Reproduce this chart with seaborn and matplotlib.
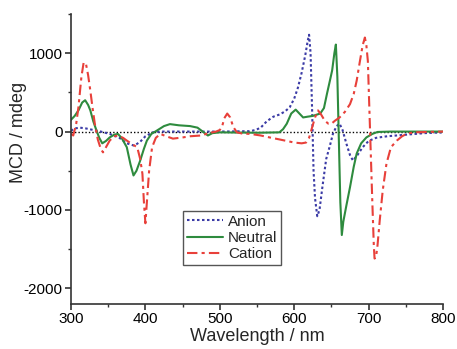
import matplotlib
matplotlib.use("Agg")
import matplotlib.pyplot as plt
import seaborn as sns
import pandas as pd
from matplotlib.ticker import MultipleLocator

sns.set_style("ticks")
plt.rcParams['font.family'] = ['Liberation Sans', 'DejaVu Sans']
plt.rcParams['axes.unicode_minus'] = False

# ---- data ----
anion_x = [300, 305, 312, 320, 330, 340, 352, 365, 375, 385, 393, 400, 410, 420, 450, 500,
           540, 548, 555, 563, 572, 581, 588, 594, 600, 605, 610, 615, 618, 620, 622, 624,
           626, 628, 631, 634, 638, 643, 648, 652, 657, 661, 665, 670, 675, 679, 685, 692,
           700, 710, 725, 750, 775, 800]
anion_y = [10, 40, 50, 40, 20, 0, -30, -80, -150, -180, -130, -60, -10, 0, 0, 0,
           5, 20, 50, 130, 190, 220, 260, 310, 420, 560, 750, 980, 1150, 1235, 1000, 300,
           -500, -850, -1080, -1000, -700, -350, -180, -30, 70, 100, 20, -150, -300, -370, -300, -200,
           -120, -80, -60, -40, -20, -10]

neutral_x = [300, 305, 310, 315, 319, 323, 326, 330, 334, 338, 342, 347, 352, 358, 363, 368,
             375, 380, 384, 388, 393, 398, 402, 408, 415, 425, 433, 445, 460, 470, 477, 484,
             490, 500, 550, 580, 585, 590, 596, 602, 607, 612, 618, 625, 635, 640, 644, 648,
             651, 654, 656, 658, 660, 662, 664, 666, 670, 675, 680, 684, 690, 697, 705, 712,
             730, 800]
neutral_y = [150, 200, 270, 370, 400, 340, 270, 130, 20, -80, -150, -120, -75, -40, -30, -80,
             -200, -420, -560, -500, -370, -220, -115, -30, 10, 70, 95, 80, 70, 50, 0, -50,
             -20, -10, -15, -10, 30, 100, 230, 280, 230, 180, 190, 200, 230, 300, 480, 650,
             780, 1000, 1110, 700, -100, -900, -1320, -1150, -950, -710, -450, -280, -150, -75, -30, -5,
             0, 0]

cation_x = [300, 303, 307, 310, 314, 317, 320, 323, 326, 329, 332, 336, 340, 343, 347, 352,
            358, 363, 370, 375, 382, 389, 393, 396, 398, 400, 402, 405, 409, 414, 420, 428,
            437, 450, 460, 475, 485, 495, 500, 503, 506, 510, 514, 518, 523, 530, 541, 555,
            567, 580, 590, 600, 610, 616, 620, 624, 628, 632, 636, 641, 646, 650, 655, 661,
            668, 675, 680, 684, 688, 692, 695, 697, 699, 701, 703, 705, 707, 708, 710, 712,
            715, 719, 724, 730, 738, 745, 751, 760, 800]
cation_y = [-30, -50, 100, 310, 700, 880, 870, 720, 520, 300, 100, -100, -220, -265, -200, -115,
            -60, -50, -80, -115, -160, -200, -350, -540, -900, -1170, -900, -500, -200, -80, -30, -60,
            -90, -75, -60, -50, -20, 0, 20, 60, 170, 230, 180, 60, -10, -25, -30, -50,
            -75, -100, -120, -140, -150, -140, -80, 50, 180, 270, 220, 140, 100, 100, 140, 180,
            250, 350, 480, 650, 880, 1100, 1200, 1100, 900, 300, -300, -900, -1450, -1620, -1600, -1450,
            -1130, -750, -410, -200, -115, -60, -30, -10, 0]

labels = ["Anion", "Neutral", "Cation"]
colors = ["#3b3ba6", "#2e8b3e", "#e8403a"]

fig = plt.figure(figsize=(4.57, 3.49), dpi=100)
ax = fig.add_axes([71/457, 1 - 304/349, (443 - 71)/457, (304 - 14)/349])

ax.axhline(0, color="black", lw=1.0, ls=(0, (1, 1.5)), zorder=1)

sns.lineplot(x=anion_x, y=anion_y, ax=ax, sort=False, estimator=None,
             color=colors[0], lw=1.5, ls=(0, (1.2, 1.2)), label=labels[0])
sns.lineplot(x=neutral_x, y=neutral_y, ax=ax, sort=False, estimator=None,
             color=colors[1], lw=1.5, ls="-", label=labels[1])
sns.lineplot(x=cation_x, y=cation_y, ax=ax, sort=False, estimator=None,
             color=colors[2], lw=1.5, ls=(0, (5, 2, 1.5, 2)), label=labels[2])

ax.set_xlim(300, 800)
ax.set_ylim(-2200, 1500)
ax.xaxis.set_major_locator(MultipleLocator(100))
ax.xaxis.set_minor_locator(MultipleLocator(50))
ax.yaxis.set_major_locator(MultipleLocator(1000))
ax.yaxis.set_minor_locator(MultipleLocator(500))

for s in ["top", "right"]:
    ax.spines[s].set_visible(False)
for s in ["left", "bottom"]:
    ax.spines[s].set_color("#333333")
    ax.spines[s].set_linewidth(1.2)
ax.tick_params(which="major", direction="out", length=4, width=1.2, colors="#333333",
               labelsize=11, labelcolor="black", pad=2)
ax.tick_params(which="minor", direction="out", length=2.5, width=1.0, colors="#333333")

ax.set_xlabel("Wavelength / nm", fontsize=13, labelpad=1)
ax.set_ylabel("MCD / mdeg", fontsize=13)
ax.yaxis.set_label_coords(-0.118, 0.593)

leg = ax.legend(loc="upper left", bbox_to_anchor=((183 - 71)/372, (304 - 211)/290),
                fontsize=11, frameon=True, fancybox=False, edgecolor="#555555",
                framealpha=1, borderpad=0.25, labelspacing=0.15, handlelength=2.4,
                handletextpad=0.3, borderaxespad=0)
leg.get_frame().set_linewidth(1.0)

fig.savefig("out.png", dpi=100)
